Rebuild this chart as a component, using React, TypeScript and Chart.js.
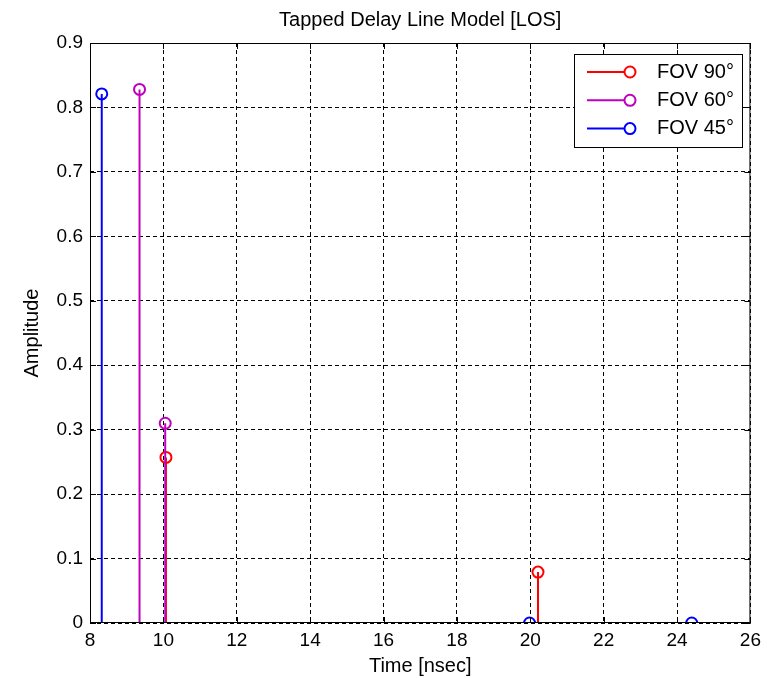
import React, { useEffect, useRef } from "react";
import { Chart, registerables } from "chart.js";

Chart.register(...registerables);

const chartTitle = "Tapped Delay Line Model [LOS]";
const xAxisTitle = "Time [nsec]";
const yAxisTitle = "Amplitude";

const seriesLabels = ["FOV 90°", "FOV 60°", "FOV 45°"];
const seriesColors = ["#ff0000", "#bf00bf", "#0000ff"];

const fov90Time = [10.07, 20.21];
const fov90Amp = [0.257, 0.079];
const fov60Time = [9.35, 10.05];
const fov60Amp = [0.828, 0.31];
const fov45Time = [8.32, 19.98, 24.4];
const fov45Amp = [0.821, 0, 0];

const xMin = 8;
const xMax = 26;
const xStep = 2;
const yMin = 0;
const yMax = 0.9;
const yStep = 0.1;

const FONT = "'Liberation Sans', Arial, Helvetica, sans-serif";

function stemData(xs: number[], ys: number[]) {
  const out: any[] = [];
  xs.forEach((x, i) => {
    out.push({ x, y: 0 });
    out.push({ x, y: ys[i] });
    out.push({ x, y: null });
  });
  return out;
}

function markerData(xs: number[], ys: number[]) {
  return xs.map((x, i) => ({ x, y: ys[i] }));
}

const decorPlugin = {
  id: "matlabDecor",
  afterDraw(chart: any) {
    const { ctx, chartArea } = chart;
    const { left, right, top, bottom } = chartArea;
    const xs = chart.scales.x;
    const ys = chart.scales.y;
    ctx.save();
    ctx.strokeStyle = "#000";
    ctx.lineWidth = 1;
    ctx.setLineDash([]);
    // tick marks (inward, all four sides)
    ctx.beginPath();
    xs.ticks.forEach((t: any) => {
      const px = Math.round(xs.getPixelForValue(t.value)) + 0.5;
      ctx.moveTo(px, bottom);
      ctx.lineTo(px, bottom - 6);
      ctx.moveTo(px, top);
      ctx.lineTo(px, top + 6);
    });
    ys.ticks.forEach((t: any) => {
      const py = Math.round(ys.getPixelForValue(t.value)) + 0.5;
      ctx.moveTo(left, py);
      ctx.lineTo(left + 6, py);
      ctx.moveTo(right, py);
      ctx.lineTo(right - 6, py);
    });
    ctx.stroke();
    // box
    ctx.strokeRect(left + 0.5, top + 0.5, right - left - 1, bottom - top - 1);
    // title
    ctx.fillStyle = "#000";
    ctx.font = `20px ${FONT}`;
    ctx.textAlign = "center";
    ctx.textBaseline = "middle";
    ctx.fillText(chartTitle, (left + right) / 2, 20);
    // legend
    const lx = 574.5;
    const ly = 54.5;
    const lw = 168;
    const lh = 93;
    ctx.fillStyle = "#fff";
    ctx.fillRect(lx, ly, lw, lh);
    ctx.strokeStyle = "#000";
    ctx.strokeRect(lx, ly, lw, lh);
    seriesLabels.forEach((label, i) => {
      const cy = 72 + i * 28.3;
      ctx.strokeStyle = seriesColors[i];
      ctx.lineWidth = 2;
      ctx.beginPath();
      ctx.moveTo(587, cy);
      ctx.lineTo(625, cy);
      ctx.stroke();
      ctx.beginPath();
      ctx.arc(630, cy, 5.5, 0, Math.PI * 2);
      ctx.stroke();
      ctx.fillStyle = "#000";
      ctx.font = `20px ${FONT}`;
      ctx.textAlign = "left";
      ctx.textBaseline = "middle";
      ctx.fillText(label, 657, cy);
    });
    ctx.restore();
  },
};

export default function App() {
  const ref = useRef<HTMLCanvasElement>(null);

  useEffect(() => {
    document.body.style.margin = "0";
    const canvas = ref.current;
    if (!canvas) return;
    const series = [
      { xs: fov90Time, ys: fov90Amp, color: seriesColors[0], ord: 5 },
      { xs: fov60Time, ys: fov60Amp, color: seriesColors[1], ord: 3 },
      { xs: fov45Time, ys: fov45Amp, color: seriesColors[2], ord: 1 },
    ];
    const datasets: any[] = [];
    series.forEach((s, i) => {
      datasets.push({
        type: "line",
        label: seriesLabels[i] + " stem",
        data: stemData(s.xs, s.ys),
        borderColor: s.color,
        borderWidth: 2,
        pointRadius: 0,
        spanGaps: false,
        fill: false,
        order: s.ord + 1,
      });
      datasets.push({
        type: "line",
        label: seriesLabels[i],
        data: markerData(s.xs, s.ys),
        showLine: false,
        pointRadius: 5.5,
        pointStyle: "circle",
        pointBorderWidth: 2,
        pointBorderColor: s.color,
        pointBackgroundColor: "rgba(0,0,0,0)",
        order: s.ord,
      });
    });

    const chart = new Chart(canvas, {
      type: "line",
      data: { datasets },
      plugins: [decorPlugin],
      options: {
        animation: false,
        responsive: false,
        devicePixelRatio: 1,
        layout: { padding: { left: 0, right: 16, top: 43, bottom: 0 } },
        plugins: {
          legend: { display: false },
          title: { display: false },
          tooltip: { enabled: false },
        },
        scales: {
          x: {
            type: "linear",
            min: xMin,
            max: xMax,
            ticks: {
              stepSize: xStep,
              color: "#000",
              font: { family: FONT, size: 19 },
              padding: 6,
              maxRotation: 0,
            },
            grid: {
              color: "#000",
              lineWidth: 1,
              drawTicks: false,
            },
            border: { display: false, dash: [4, 3] },
            title: {
              display: true,
              text: xAxisTitle,
              color: "#000",
              font: { family: FONT, size: 20 },
              padding: { top: 0, bottom: 0 },
            },
            afterFit(scale: any) {
              scale.height = 55;
            },
          },
          y: {
            type: "linear",
            min: yMin,
            max: yMax,
            ticks: {
              stepSize: yStep,
              color: "#000",
              font: { family: FONT, size: 19 },
              padding: 7,
              callback: (v: any) => String(Math.round(Number(v) * 10) / 10),
            },
            grid: {
              color: "#000",
              lineWidth: 1,
              drawTicks: false,
            },
            border: { display: false, dash: [4, 3] },
            title: {
              display: true,
              text: yAxisTitle,
              color: "#000",
              font: { family: FONT, size: 20 },
              padding: { top: 20, bottom: 0 },
            },
            afterFit(scale: any) {
              scale.width = 90;
            },
          },
        },
      } as any,
    });
    return () => chart.destroy();
  }, []);

  return (
    <div style={{ width: 767, height: 678, background: "#fff" }}>
      <canvas ref={ref} width={767} height={678} style={{ display: "block" }} />
    </div>
  );
}
